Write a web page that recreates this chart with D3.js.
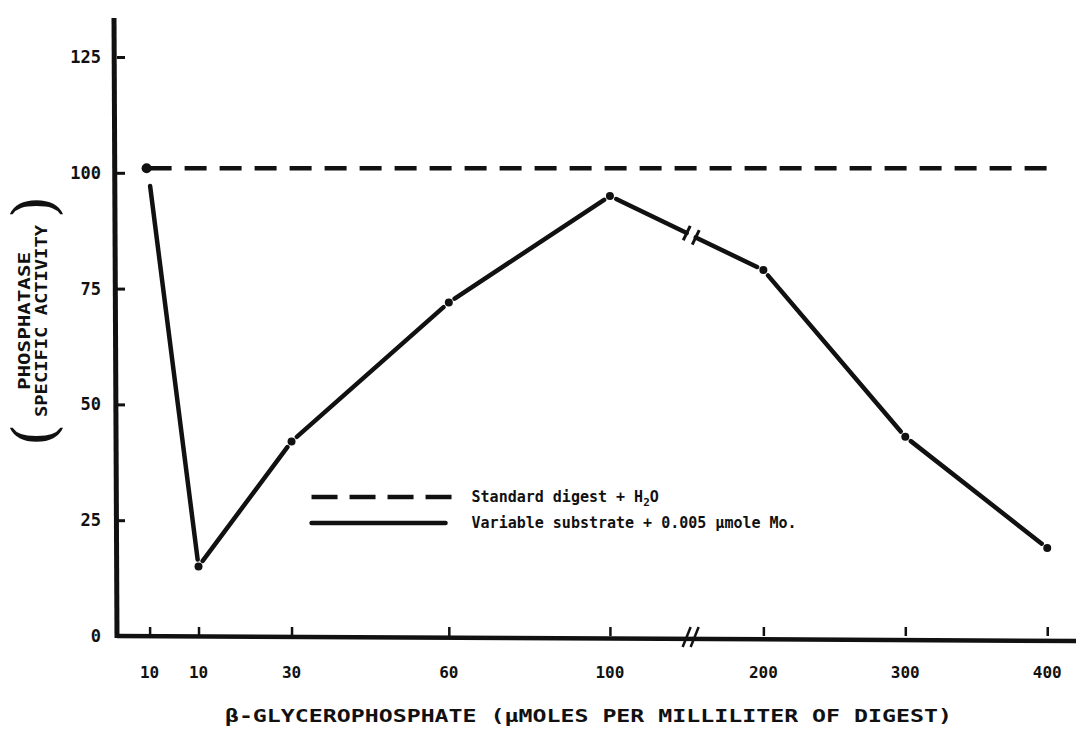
<!DOCTYPE html>
<html>
<head>
<meta charset="utf-8">
<script src="https://cdn.jsdelivr.net/npm/d3@7"></script>
<style>
  html, body { margin: 0; padding: 0; background: #fff; }
  svg text { font-family: "DejaVu Sans Mono", "Liberation Mono", monospace; font-weight: bold; fill: #111; }
</style>
</head>
<body>
<div id="chart"></div>
<script>
// x categories (beta-glycerophosphate, umoles/ml), axis broken between 100 and 200
const categories = ['10', '10', '30', '60', '100', '200', '300', '400'];
const variableSubstrate = [98, 15, 42, 72, 95, 79, 43, 19];
const standardDigest = [101, 101, 101, 101, 101, 101, 101, 101];
const yTicks = [0, 25, 50, 75, 100, 125];
const legendLabels = ['Standard digest + H', 'Variable substrate + 0.005 \u03bcmole Mo.'];

const width = 1076, height = 740;
const margin = { top: 57, right: 0, bottom: 104, left: 117 };

const svg = d3.select('#chart').append('svg')
    .attr('width', width)
    .attr('height', height);

const plotW = width - margin.left - margin.right;
const plotH = height - margin.top - margin.bottom;

const g = svg.append('g')
    .attr('transform', `translate(${margin.left},${margin.top})`);

// uneven spacing on the original sheet, so a piecewise scale on category index
const xScale = d3.scaleLinear()
    .domain(d3.range(categories.length))
    .range([0.034, 0.085, 0.182, 0.346, 0.514, 0.674, 0.822, 0.970].map(f => f * plotW));

const yScale = d3.scaleLinear()
    .domain([0, 125])
    .range([plotH, 0]);

const y0 = yScale(0);

// axes
const yAxis = d3.axisRight(yScale).tickValues(yTicks).tickSize(8).tickFormat('');
g.append('g').call(yAxis)
    .call(a => a.select('.domain').remove())
    .selectAll('line').attr('stroke', '#111').attr('stroke-width', 3);

g.selectAll('.ylab')
    .data(yTicks)
    .enter().append('text')
    .attr('class', 'ylab')
    .attr('x', -16)
    .attr('y', d => yScale(d))
    .attr('dy', '0.35em')
    .attr('text-anchor', 'end')
    .style('font-size', '17px')
    .text(d => d);

g.append('line')
    .attr('x1', -3).attr('x2', 0)
    .attr('y1', -39).attr('y2', y0 + 2)
    .attr('stroke', '#111').attr('stroke-width', 5);

const xAxis = d3.axisTop(xScale).tickValues(d3.range(categories.length)).tickSize(9).tickFormat('');
g.append('g')
    .attr('transform', `translate(0,${y0})`)
    .call(xAxis)
    .call(a => a.select('.domain').remove())
    .selectAll('line').attr('stroke', '#111').attr('stroke-width', 2.5);

g.append('line')
    .attr('x1', 0).attr('x2', plotW)
    .attr('y1', y0).attr('y2', y0 + 5)
    .attr('stroke', '#111').attr('stroke-width', 4.5);

g.selectAll('.xlab')
    .data(categories)
    .enter().append('text')
    .attr('class', 'xlab')
    .attr('x', (d, i) => xScale(i))
    .attr('y', y0 + 42)
    .attr('text-anchor', 'middle')
    .style('font-size', '16px')
    .text(d => d);

// axis break mark between 100 and 200
const breakX = (xScale(4) + xScale(5)) / 2 + 4;
[-4, 4].forEach(off => {
    g.append('line')
        .attr('x1', breakX + off - 4).attr('x2', breakX + off + 4)
        .attr('y1', y0 + 11).attr('y2', y0 - 9)
        .attr('stroke', '#111').attr('stroke-width', 2.5);
});

// axis titles
g.append('text')
    .attr('x', (xScale(0) + xScale(7)) / 2 - 10)
    .attr('y', y0 + 86)
    .attr('text-anchor', 'middle')
    .attr('textLength', 727)
    .attr('lengthAdjust', 'spacingAndGlyphs')
    .style('font-size', '17px')
    .text('\u03b2-GLYCEROPHOSPHATE (\u03bcMOLES PER MILLILITER OF DIGEST)');

const yTitle = svg.append('g')
    .attr('transform', `translate(33,${margin.top + yScale(68)}) rotate(-90)`);
yTitle.append('text')
    .attr('x', 0).attr('y', -3)
    .attr('text-anchor', 'middle')
    .attr('textLength', 138)
    .attr('lengthAdjust', 'spacingAndGlyphs')
    .style('font-size', '15px')
    .text('PHOSPHATASE');
yTitle.append('text')
    .attr('x', 0).attr('y', 14)
    .attr('text-anchor', 'middle')
    .attr('textLength', 192)
    .attr('lengthAdjust', 'spacingAndGlyphs')
    .style('font-size', '15px')
    .text('SPECIFIC ACTIVITY');
[['(', -114], [')', 114]].forEach(([ch, x]) => {
    yTitle.append('text')
        .attr('x', x).attr('y', 21)
        .attr('text-anchor', 'middle')
        .style('font-family', '"DejaVu Serif", serif')
        .style('font-weight', 'normal')
        .style('font-size', '58px')
        .text(ch);
});

// standard digest (dashed)
const line = d3.line()
    .x((d, i) => xScale(i))
    .y(d => yScale(d));

g.append('path')
    .datum(standardDigest)
    .attr('fill', 'none')
    .attr('stroke', '#111')
    .attr('stroke-width', 4.5)
    .attr('stroke-dasharray', '22,13')
    .attr('d', line);

g.append('circle')
    .attr('cx', xScale(0) - 3)
    .attr('cy', yScale(standardDigest[0]))
    .attr('r', 5)
    .attr('fill', '#111');

// variable substrate (solid, broken around each point)
const gap = 7;
const pts = variableSubstrate.map((v, i) => [xScale(i), yScale(v)]);
for (let i = 0; i < pts.length - 1; i++) {
    const [xa, ya] = pts[i], [xb, yb] = pts[i + 1];
    const len = Math.hypot(xb - xa, yb - ya);
    const ux = (xb - xa) / len, uy = (yb - ya) / len;
    const startGap = i === 0 ? 4 : gap;
    if (i === 4) {
        // break on the curve between 100 and 200
        const mid = len * 0.53;
        [[startGap, mid - 5], [mid + 5, len - gap]].forEach(([s, e]) => {
            g.append('line')
                .attr('x1', xa + ux * s).attr('y1', ya + uy * s)
                .attr('x2', xa + ux * e).attr('y2', ya + uy * e)
                .attr('stroke', '#111').attr('stroke-width', 4.5).attr('stroke-linecap', 'round');
        });
        [mid - 5, mid + 5].forEach(m => {
            const cx = xa + ux * m, cy = ya + uy * m;
            g.append('line')
                .attr('x1', cx - uy * 8).attr('y1', cy + ux * 8)
                .attr('x2', cx + uy * 8).attr('y2', cy - ux * 8)
                .attr('stroke', '#111').attr('stroke-width', 3);
        });
        continue;
    }
    g.append('line')
        .attr('x1', xa + ux * startGap).attr('y1', ya + uy * startGap)
        .attr('x2', xb - ux * gap).attr('y2', yb - uy * gap)
        .attr('stroke', '#111')
        .attr('stroke-width', 4.5)
        .attr('stroke-linecap', 'round');
}

g.selectAll('.pt')
    .data(variableSubstrate.slice(1))
    .enter().append('circle')
    .attr('class', 'pt')
    .attr('cx', (d, i) => xScale(i + 1))
    .attr('cy', d => yScale(d))
    .attr('r', 4)
    .attr('fill', '#111');

// legend
const legend = g.append('g')
    .attr('transform', `translate(${xScale(2) + 20},${yScale(30)})`);

legend.append('line')
    .attr('x1', 0).attr('x2', 142)
    .attr('y1', 0).attr('y2', 0)
    .attr('stroke', '#111').attr('stroke-width', 4.5)
    .attr('stroke-dasharray', '26,12');

const t1 = legend.append('text')
    .attr('x', 160).attr('y', 0).attr('dy', '0.35em')
    .style('font-size', '15px')
    .text(legendLabels[0]);
t1.append('tspan').attr('dy', 4).style('font-size', '11px').text('2');
t1.append('tspan').attr('dy', -4).text('O');

legend.append('line')
    .attr('x1', 0).attr('x2', 134)
    .attr('y1', 26).attr('y2', 26)
    .attr('stroke', '#111').attr('stroke-width', 4.5)
    .attr('stroke-linecap', 'round');

legend.append('text')
    .attr('x', 160).attr('y', 26).attr('dy', '0.35em')
    .style('font-size', '15px')
    .text(legendLabels[1]);
</script>
</body>
</html>
